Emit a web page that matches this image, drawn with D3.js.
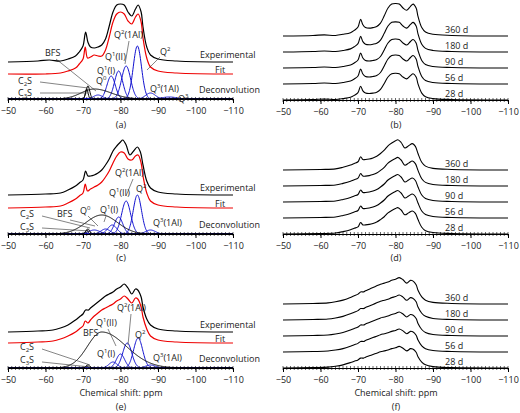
<!DOCTYPE html>
<html><head><meta charset="utf-8">
<script src="https://cdn.jsdelivr.net/npm/d3@7"></script>
<style>body{margin:0;background:#fff}text{font-family:"Open Sans",sans-serif;font-size:9px;fill:#222}</style>
</head><body><script>
// experimental spectra: [ppm, height above baseline in px]
var expA = [[-50,0],[-58,1],[-61,2],[-64,1],[-66,3],[-68,6],[-69,10],[-70,16],[-70.7,30],[-71.3,20],[-72,15],[-73,14],[-74,15],[-75,17],[-76,23],[-77,36],[-78,50],[-79,57],[-80,58],[-81,57],[-82,50],[-83,46],[-84,53],[-84.7,57],[-85.5,50],[-86,35],[-87,15],[-88,7],[-90,3],[-95,1],[-110,0]];
var fitA = [[-50,0],[-60,0],[-64,1],[-66,3],[-68,6],[-69,10],[-70,15],[-70.6,27],[-71.2,16],[-72,17],[-73,19],[-74,18],[-75,18],[-76,24],[-77,37],[-78,52],[-79,60],[-80,62],[-81,60],[-82,53],[-83,50],[-84,57],[-84.7,60],[-85.5,52],[-86,36],[-87,16],[-88,7],[-90,3],[-95,1],[-110,0]];
var expC = [[-50,0],[-60,1],[-64,2],[-66,5],[-68,9],[-69,12],[-70,15],[-70.7,24],[-71.3,19],[-72,19],[-73,20],[-74,22],[-75,25],[-76,30],[-77,36],[-78,44],[-79,49],[-80,53],[-80.6,55],[-81.5,50],[-82.5,40],[-83.5,44],[-84.5,48],[-85.3,43],[-86,30],[-87,14],[-88,7],[-90,3],[-95,1],[-110,0]];
var fitC = [[-50,0],[-60,1],[-64,2],[-66,5],[-68,9],[-69,12],[-70,15],[-70.6,24],[-71.2,17],[-72,19],[-73,21],[-74,23],[-75,26],[-76,31],[-77,37],[-78,45],[-79,52],[-80,56],[-81,55],[-82,49],[-83,48],[-84,52],[-84.7,53],[-85.5,45],[-86,32],[-87,15],[-88,7],[-90,3],[-95,1],[-110,0]];
var expE = [[-50,0],[-58,1],[-62,2],[-64,4],[-66,7],[-68,12],[-69,15],[-70,18],[-70.7,22],[-71.5,22],[-72,24],[-73,27],[-74,30],[-75,33],[-76,36],[-77,38],[-78,40],[-79,43],[-80,45],[-81,48],[-82,44],[-83,38],[-84,43],[-84.6,42],[-85.5,35],[-86,25],[-87,13],[-88,7],[-90,3],[-95,1],[-110,0]];
var fitE = [[-50,0],[-58,1],[-62,2],[-64,4],[-66,7],[-68,11],[-69,14],[-70,17],[-70.6,22],[-71.3,20],[-72,23],[-73,27],[-74,30],[-75,33],[-76,35],[-77,37],[-78,39],[-79,42],[-80,44],[-81,47],[-82,44],[-83,40],[-84,45],[-84.6,44],[-85.5,36],[-86,26],[-87,14],[-88,7],[-90,3],[-95,1],[-110,0]];

// deconvolution components: [centre ppm, height px, width ppm (left), width ppm (right)]
var blackA = [[-71.0,10,0.35,0.35],[-71.3,13,0.5,0.5],[-73.0,10,3.5,4.5]];
var blueA  = [[-74,4,1.2,1.2],[-77.5,23,1.1,1.1],[-79.5,28,1.1,1.1],[-81.5,33,1.2,1.2],[-84.5,53,1.1,1.1],[-88,6,1.3,1.3],[-93,2,2,2]];
var blackC = [[-71.0,4,0.35,0.35],[-71.3,5,0.5,0.5],[-75.0,19,4.2,4.2]];
var blueC  = [[-73,4,1.5,1.5],[-76,5,1.2,1.2],[-77.8,9,1.2,1.2],[-79.5,17,1.1,1.1],[-81.5,33,1.2,1.2],[-84.5,39,1.1,1.1],[-88,4,1.3,1.3]];
var blackE = [[-71.0,2,0.35,0.35],[-71.3,3,0.5,0.5],[-75.0,36,3.8,6.5]];
var blueE  = [[-78,6,1.1,1.1],[-80,14,1.1,1.1],[-81.8,25,1.2,1.2],[-84.7,30,1.2,1.2],[-88,3,1.3,1.3]];

var ages = ["360 d","180 d","90 d","56 d","28 d"];
var scaleB = [0.56,0.52,0.5,0.5,0.46];
var scaleD = [0.55,0.52,0.5,0.5,0.48];
var scaleF = [0.55,0.52,0.5,0.48,0.45];
var tickVals = [-50,-60,-70,-80,-90,-100,-110];

var svg = d3.select("body").append("svg").attr("width",520).attr("height",413);
var xl = d3.scaleLinear().domain([-50,-110]).range([8,233]);
var xr = d3.scaleLinear().domain([-50,-110]).range([283,508]);
var line = d3.line().curve(d3.curveCatmullRom);

function drawAxis(x, y0) {
    var g = svg.append("g").attr("transform","translate(0,"+y0+")");
    g.call(d3.axisBottom(x).tickValues(tickVals).tickSize(4).tickFormat(function(d){ return "\u2212"+Math.abs(d); }));
    g.select(".domain").attr("stroke","#000");
    g.selectAll(".tick text").attr("font-size",9).attr("fill","#444").attr("font-family","Open Sans").attr("dy","0.9em");
    g.selectAll(".minor").data(d3.range(-50,-111,-1)).enter().append("line").attr("class","minor")
        .attr("x1",x).attr("x2",x).attr("y1",-2).attr("y2",2).attr("stroke","#000").attr("stroke-width",0.6);
}

function drawSpec(x, pts, base, k, color, w) {
    svg.append("path").attr("d", line(pts.map(function(p){ return [x(p[0]), base - p[1]*k]; })))
        .attr("fill","none").attr("stroke",color).attr("stroke-width",w);
}

function drawPeak(x, pk, base, color) {
    var pts = d3.range(-50,-110.01,-0.1).map(function(v){
        var s = v > pk[0] ? pk[2] : pk[3];
        return [x(v), base - pk[1]*Math.exp(-0.5*Math.pow((v-pk[0])/s,2))];
    });
    svg.append("path").attr("d", d3.line()(pts)).attr("fill","none").attr("stroke",color).attr("stroke-width",1);
}

function label(x, y, parts, anchor) {
    var t = svg.append("text").attr("x",x).attr("y",y).attr("text-anchor",anchor||"start");
    parts.forEach(function(p){
        var s = t.append("tspan").text(p[0]);
        if (p[1]=="sup") s.attr("font-size",6).attr("dy",-4);
        if (p[1]=="sub") s.attr("font-size",6).attr("dy",2);
        if (p[1]=="back") s.attr("dy",p[2]);
    });
}
function lead(x1,y1,x2,y2){ svg.append("line").attr("x1",x1).attr("y1",y1).attr("x2",x2).attr("y2",y2).attr("stroke","#333").attr("stroke-width",0.6); }

function leftPanel(exp, fit, black, blue, eb, fb, db) {
    drawSpec(xl, exp, eb, 1, "#000", 1.2);
    drawSpec(xl, fit, fb, 1, "#e00", 1.2);
    blue.forEach(function(p){ drawPeak(xl,p,db,"#1010d0"); });
    black.forEach(function(p){ drawPeak(xl,p,db,"#000"); });
    drawAxis(xl, db);
    label(200, eb-4, [["Experimental"]]);
    label(215, fb-1, [["Fit"]]);
    label(199, db-6, [["Deconvolution"]]);
}
function rightPanel(exp, sc, axisY) {
    ages.forEach(function(a,i){
        var b = axisY - (4-i)*16;
        drawSpec(xr, exp, b, sc[i], "#000", 1.1);
        svg.append("text").attr("x",445).attr("y",b-3).text(a);
    });
    drawAxis(xr, axisY);
}

// row 1
leftPanel(expA, fitA, blackA, blueA, 62, 74, 99);
rightPanel(expA, scaleB, 100);
label(45,56,[["BFS"]]); lead(56,59,96,91);
label(18,84,[["C"],["2","sub"],["S","back",-2]]); lead(40,82,88,88);
label(18,96,[["C"],["3","sub"],["S","back",-2]]); lead(40,93,88,93);
label(96,84,[["Q"],["0","sup"]]);
label(97,74,[["Q"],["1","sup"],["(I)","back",4]]);
label(105,60,[["Q"],["1","sup"],["(II)","back",4]]);
label(114,38,[["Q"],["2","sup"],["(1Al)","back",4]]); lead(129,41,125,64);
label(160,55,[["Q"],["2","sup"]]); lead(160,57,147,70);
label(150,92,[["Q"],["3","sup"],["(1Al)","back",4]]);
label(178,102,[["Q"],["3","sup"]]);
svg.append("text").attr("x",121).attr("y",128).attr("text-anchor","middle").text("(a)");
svg.append("text").attr("x",396).attr("y",128).attr("text-anchor","middle").text("(b)");

// row 2
leftPanel(expC, fitC, blackC, blueC, 195, 208, 234);
rightPanel(expC, scaleD, 234);
label(20,217,[["C"],["2","sub"],["S","back",-2]]); lead(42,216,90,228);
label(20,230,[["C"],["3","sub"],["S","back",-2]]); lead(42,228,90,231);
label(57,217,[["BFS"]]); lead(70,220,95,226);
label(80,214,[["Q"],["0","sup"]]); lead(88,216,98,226);
label(100,213,[["Q"],["1","sup"],["(I)","back",4]]); lead(106,216,104,222);
label(109,196,[["Q"],["1","sup"],["(II)","back",4]]);
label(115,176,[["Q"],["2","sup"],["(1Al)","back",4]]); lead(133,179,126,196);
label(136,192,[["Q"],["2","sup"]]);
label(153,226,[["Q"],["3","sup"],["(1Al)","back",4]]);
svg.append("text").attr("x",121).attr("y",261).attr("text-anchor","middle").text("(c)");
svg.append("text").attr("x",396).attr("y",261).attr("text-anchor","middle").text("(d)");

// row 3
leftPanel(expE, fitE, blackE, blueE, 332, 343, 368);
rightPanel(expE, scaleF, 368);
label(20,350,[["C"],["2","sub"],["S","back",-2]]); lead(42,349,90,365);
label(20,363,[["C"],["3","sub"],["S","back",-2]]); lead(42,362,90,367);
label(83,336,[["BFS"]]);
label(96,326,[["Q"],["1","sup"],["(II)","back",4]]); lead(108,329,116,346);
label(97,357,[["Q"],["1","sup"],["(I)","back",4]]);
label(117,311,[["Q"],["2","sup"],["(1Al)","back",4]]); lead(131,314,128,345);
label(135,338,[["Q"],["2","sup"]]);
label(153,361,[["Q"],["3","sup"],["(1Al)","back",4]]);
svg.append("text").attr("x",121).attr("y",396).attr("text-anchor","middle").text("Chemical shift: ppm");
svg.append("text").attr("x",121).attr("y",410).attr("text-anchor","middle").text("(e)");
svg.append("text").attr("x",396).attr("y",396).attr("text-anchor","middle").text("Chemical shift: ppm");
svg.append("text").attr("x",396).attr("y",410).attr("text-anchor","middle").text("(f)");
</script></body></html>
